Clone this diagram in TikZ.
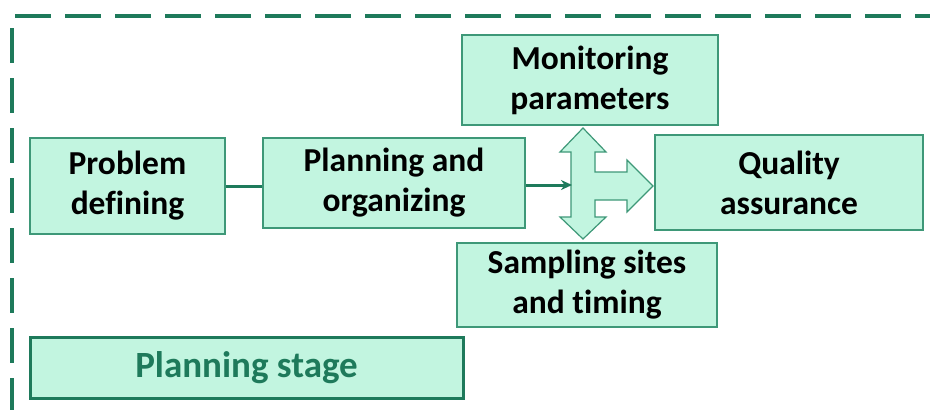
\documentclass[tikz,border=0pt]{standalone}
\usepackage{fontspec}
\setmainfont{Carlito}[Ligatures=NoCommon]
\usetikzlibrary{arrows.meta}

\definecolor{mint}{HTML}{C2F5E0}
\definecolor{boxline}{HTML}{3E9878}
\definecolor{darkgreen}{HTML}{1E7A5B}

\tikzset{
  stepbox/.style={draw=boxline, fill=mint, line width=1.3pt, align=center,
    inner sep=0pt, font=\bfseries\fontsize{33.5}{40}\selectfont},
  stagebox/.style={draw=darkgreen, fill=mint, line width=3pt, align=center,
    inner sep=0pt, text=darkgreen, font=\bfseries\fontsize{37}{42}\selectfont}
}

\begin{document}
\begin{tikzpicture}[x=1pt, y=-1pt, >={Stealth[length=11pt,width=10pt]}, thick]
\useasboundingbox (0,0) rectangle (930,410);
\fill[white] (0,0) rectangle (930,410);

% dashed frame, cut off at right and bottom
\draw[darkgreen, line width=3.5pt, dash pattern=on 36pt off 14pt] (15,16) -- (935,16);
\draw[darkgreen, line width=3.5pt, dash pattern=on 35pt off 15pt] (12,28) -- (12,415);

% boxes
\node[stepbox, minimum width=195pt, minimum height=96pt] (prob) at (127.5,186) {Problem\\defining};
\node[stepbox, minimum width=262pt, minimum height=90pt] (plan) at (394,183) {Planning and\\organizing};
\node[stepbox, minimum width=256pt, minimum height=90pt] (monit) at (590,80) {Monitoring\\parameters};
\node[stepbox, minimum width=268pt, minimum height=95pt] (qual) at (789,182.5) {Quality\\assurance};
\node[stepbox, minimum width=260pt, minimum height=84pt] (samp) at (587,285) {Sampling sites\\and timing};
\node[stagebox, minimum width=433pt, minimum height=61pt] (stage) at (246.5,367.5) {Planning stage};

% three-way block arrow
\draw[boxline, fill=mint, line width=1.2pt]
  (583,128) -- (606,152) -- (595,152) -- (595,172) -- (627,172) -- (627,160)
  -- (653,186) -- (627,212) -- (627,200) -- (595,200) -- (595,217) -- (606,217)
  -- (583,239) -- (560,217) -- (571,217) -- (571,152) -- (560,152) -- cycle;
\coordinate (split) at (572,185);

% connectors
\draw[darkgreen, line width=3pt] (prob.east) -- (prob.east -| plan.west);
\draw[darkgreen, line width=3pt, ->] (plan.east |- split) -- (split);
\end{tikzpicture}
\end{document}
